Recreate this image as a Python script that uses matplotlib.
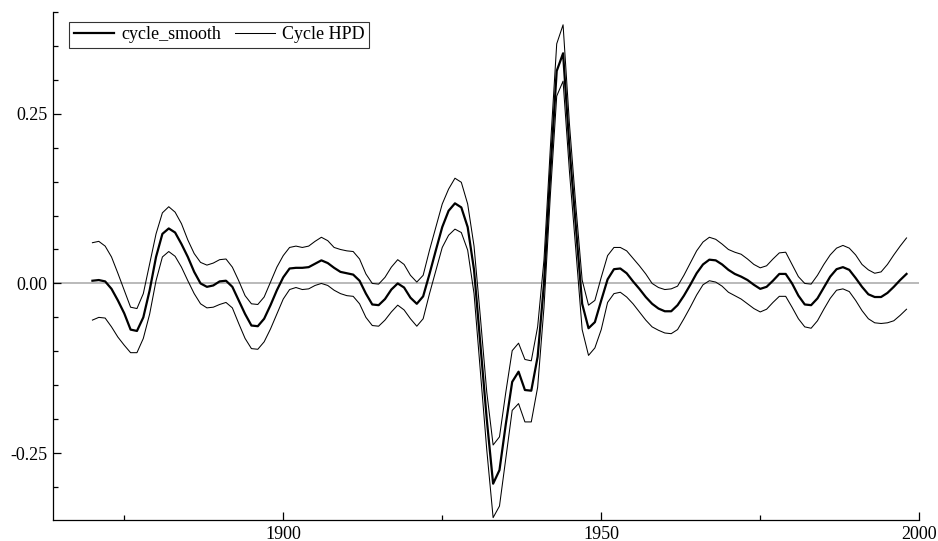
import matplotlib
matplotlib.use("Agg")
import matplotlib.pyplot as plt
from matplotlib.ticker import MultipleLocator, FixedLocator, FormatStrFormatter

plt.rcParams['font.family'] = ['Liberation Serif', 'DejaVu Serif']

years = list(range(1870, 1999))

cycle_smooth = [
    0.004, 0.005, 0.003, -0.008, -0.025, -0.044, -0.068, -0.070, -0.050, -0.010,
    0.039, 0.073, 0.081, 0.075, 0.058, 0.039, 0.017, 0.000, -0.005, -0.003,
    0.003, 0.004, -0.005, -0.025, -0.045, -0.062, -0.063, -0.052, -0.032, -0.010,
    0.009, 0.022, 0.023, 0.023, 0.024, 0.029, 0.034, 0.030, 0.023, 0.017,
    0.015, 0.013, 0.004, -0.015, -0.031, -0.032, -0.023, -0.009, 0.000, -0.006,
    -0.021, -0.030, -0.019, 0.014, 0.049, 0.083, 0.107, 0.118, 0.112, 0.083,
    0.020, -0.090, -0.200, -0.295, -0.275, -0.207, -0.145, -0.130, -0.157, -0.158,
    -0.108, 0.000, 0.165, 0.313, 0.339, 0.200, 0.085, -0.030, -0.066, -0.057,
    -0.025, 0.006, 0.021, 0.022, 0.015, 0.003, -0.008, -0.020, -0.030, -0.037,
    -0.041, -0.041, -0.032, -0.018, -0.002, 0.015, 0.028, 0.035, 0.034, 0.028,
    0.020, 0.014, 0.010, 0.005, -0.002, -0.008, -0.005, 0.004, 0.014, 0.014,
    0.000, -0.018, -0.031, -0.032, -0.022, -0.006, 0.010, 0.021, 0.024, 0.020,
    0.008, -0.005, -0.016, -0.020, -0.020, -0.014, -0.005, 0.005, 0.014,
]

hpd_upper = [
    0.060, 0.062, 0.055, 0.039, 0.015, -0.010, -0.035, -0.037, -0.015, 0.029,
    0.073, 0.104, 0.113, 0.105, 0.088, 0.064, 0.044, 0.031, 0.027, 0.030,
    0.035, 0.036, 0.024, 0.004, -0.018, -0.030, -0.031, -0.020, 0.002, 0.024,
    0.041, 0.053, 0.055, 0.053, 0.055, 0.062, 0.068, 0.063, 0.053, 0.050,
    0.048, 0.047, 0.036, 0.014, 0.000, -0.001, 0.009, 0.024, 0.035, 0.028,
    0.012, 0.002, 0.012, 0.049, 0.083, 0.117, 0.139, 0.155, 0.149, 0.117,
    0.055, -0.050, -0.160, -0.238, -0.226, -0.160, -0.099, -0.088, -0.112, -0.114,
    -0.064, 0.035, 0.200, 0.353, 0.381, 0.235, 0.115, 0.005, -0.032, -0.025,
    0.009, 0.041, 0.053, 0.053, 0.048, 0.037, 0.026, 0.014, 0.000, -0.006,
    -0.009, -0.008, -0.004, 0.012, 0.030, 0.048, 0.061, 0.068, 0.065, 0.058,
    0.050, 0.046, 0.043, 0.036, 0.028, 0.023, 0.026, 0.036, 0.045, 0.046,
    0.028, 0.010, 0.000, -0.001, 0.012, 0.028, 0.042, 0.052, 0.056, 0.052,
    0.042, 0.028, 0.020, 0.015, 0.017, 0.028, 0.042, 0.055, 0.067,
]

hpd_lower = [
    -0.054, -0.050, -0.051, -0.064, -0.079, -0.091, -0.102, -0.102, -0.081, -0.045,
    0.004, 0.039, 0.047, 0.040, 0.024, 0.004, -0.015, -0.030, -0.036, -0.035,
    -0.031, -0.028, -0.036, -0.059, -0.081, -0.096, -0.097, -0.086, -0.067, -0.045,
    -0.023, -0.009, -0.006, -0.009, -0.008, -0.003, 0.000, -0.003, -0.010, -0.015,
    -0.018, -0.019, -0.030, -0.050, -0.062, -0.063, -0.054, -0.042, -0.032, -0.039,
    -0.052, -0.063, -0.052, -0.015, 0.019, 0.053, 0.071, 0.080, 0.075, 0.049,
    -0.015, -0.130, -0.245, -0.345, -0.328, -0.258, -0.187, -0.177, -0.204, -0.204,
    -0.153, -0.035, 0.130, 0.276, 0.298, 0.165, 0.050, -0.068, -0.106, -0.095,
    -0.068, -0.028, -0.015, -0.013, -0.020, -0.030, -0.042, -0.054, -0.064, -0.069,
    -0.073, -0.074, -0.068, -0.052, -0.035, -0.017, -0.002, 0.004, 0.002, -0.004,
    -0.013, -0.018, -0.023, -0.030, -0.037, -0.042, -0.038, -0.028, -0.019, -0.019,
    -0.035, -0.052, -0.064, -0.066, -0.055, -0.038, -0.022, -0.010, -0.008, -0.012,
    -0.025, -0.040, -0.052, -0.058, -0.059, -0.058, -0.055, -0.047, -0.038,
]

x_major = [1900, 1950, 2000]
x_minor = [1875, 1925, 1975]
y_major = [-0.25, 0.00, 0.25]

fig = plt.figure(figsize=(9.38, 5.41), dpi=100)
ax = fig.add_axes([0.0565, 0.0388, 0.9235, 0.9392])

ax.axhline(0.0, color='#b4b4b4', lw=1.3, zorder=1)
ax.plot(years, cycle_smooth, color='black', lw=1.6, label='cycle_smooth', zorder=3)
ax.plot(years, hpd_upper, color='black', lw=0.75, label='Cycle HPD', zorder=2)
ax.plot(years, hpd_lower, color='black', lw=0.75, zorder=2)

ax.set_xlim(1863.8, 2000)
ax.set_ylim(-0.3485, 0.40)

ax.xaxis.set_major_locator(FixedLocator(x_major))
ax.xaxis.set_minor_locator(FixedLocator(x_minor))
ax.yaxis.set_major_locator(FixedLocator(y_major))
ax.yaxis.set_minor_locator(MultipleLocator(0.05))
ax.yaxis.set_major_formatter(FormatStrFormatter('%.2f'))

ax.tick_params(axis='both', which='major', direction='in', length=6, width=0.9,
               labelsize=13, pad=4)
ax.tick_params(axis='both', which='minor', direction='in', length=3.5, width=0.9)
ax.tick_params(axis='y', which='both', left=True, right=False)
ax.tick_params(axis='x', which='both', bottom=True, top=False)

for s in ['top', 'right']:
    ax.spines[s].set_visible(False)
for s in ['left', 'bottom']:
    ax.spines[s].set_linewidth(0.9)

leg = ax.legend(loc='upper left', bbox_to_anchor=(0.019, 0.981), ncol=2,
                fontsize=13, frameon=True, fancybox=False, shadow=False,
                borderpad=0.25, handlelength=2.2, handletextpad=0.4,
                columnspacing=0.8, borderaxespad=0.0)
leg.get_frame().set_edgecolor('black')
leg.get_frame().set_linewidth(0.8)

fig.savefig('out.png', dpi=100)
